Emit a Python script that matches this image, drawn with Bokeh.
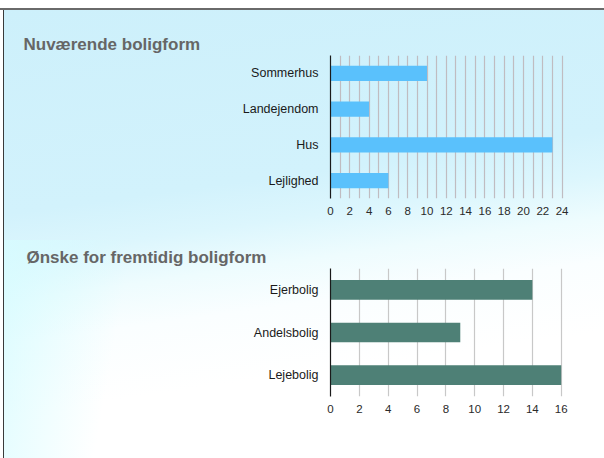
from bokeh.plotting import figure
from bokeh.layouts import column
from bokeh.models import FactorRange, Range1d, FixedTicker
from bokeh.embed import file_html
from bokeh.resources import INLINE

# ---- data ----
title_top = "Nuværende boligform"
cats_top = ["Lejlighed", "Hus", "Landejendom", "Sommerhus"]
vals_top = [6, 23, 4, 10]
ticks_top = [0, 2, 4, 6, 8, 10, 12, 14, 16, 18, 20, 22, 24]
grid_top = list(range(0, 25))

title_bot = "Ønske for fremtidig boligform"
cats_bot = ["Lejebolig", "Andelsbolig", "Ejerbolig"]
vals_bot = [16, 9, 14]
ticks_bot = [0, 2, 4, 6, 8, 10, 12, 14, 16]

FONT = "Liberation Sans"
W = 604
LEFT = 330


def make_fig(cats, vals, ticks, grid, xmax, fw, fh, mtop, mbot, color, gridcolor,
             title, tx, barh):
    p = figure(y_range=FactorRange(*cats, range_padding=0),
               x_range=Range1d(0, xmax),
               frame_width=fw, frame_height=fh,
               min_border_left=LEFT, min_border_right=W - LEFT - fw,
               min_border_top=mtop, min_border_bottom=mbot,
               output_backend="svg", toolbar_location=None)
    p.border_fill_color = None
    p.background_fill_color = None
    p.outline_line_color = None
    p.hbar(y=cats, right=vals, left=0, height=barh, color=color, line_color=None)
    p.ygrid.visible = False
    p.xgrid.ticker = FixedTicker(ticks=grid)
    p.xgrid.grid_line_color = gridcolor
    p.xgrid.grid_line_width = 1.2
    ax = p.xaxis[0]
    ax.ticker = FixedTicker(ticks=ticks)
    ax.axis_line_color = None
    ax.major_tick_line_color = None
    ax.minor_tick_line_color = None
    ax.major_label_standoff = 2
    ax.major_label_text_font = FONT
    ax.major_label_text_font_size = "11.5px"
    ax.major_label_text_color = "#2a2a2a"
    ay = p.yaxis[0]
    ay.axis_line_color = "#1a1a1a"
    ay.axis_line_width = 1.2
    ay.major_tick_line_color = None
    ay.minor_tick_line_color = None
    ay.major_label_standoff = 6
    ay.major_label_text_font = FONT
    ay.major_label_text_font_size = "12.5px"
    ay.major_label_text_color = "#1a1a1a"
    p.title.text = title
    p.title.align = "left"
    p.title.offset = tx - LEFT
    p.title.standoff = 4
    p.title.text_font = FONT
    p.title.text_font_style = "bold"
    p.title.text_font_size = "17px"
    p.title.text_color = "#666666"
    return p


p1 = make_fig(cats_top, vals_top, ticks_top, grid_top, 235 / 9.65, 235, 143, 55, 45,
              "#5ac1fc", "#c0bcc1", title_top, 23, 0.43)
p2 = make_fig(cats_bot, vals_bot, ticks_bot, ticks_bot, 233 / 14.42, 233, 128, 24, 63,
              "#4e8076", "#c8c8c8", title_bot, 26, 0.46)

layout = column(p1, p2, spacing=0)
layout.styles = {
    "background-color": "#ffffff",
    "background": (
        "linear-gradient(#6a6a6a, #6a6a6a) 0 8px / 100% 2px no-repeat, "
        "linear-gradient(#3a3a3a, #3a3a3a) 3px 8px / 1px 100% no-repeat, "
        "linear-gradient(100deg, rgba(215,252,255,0.85) 0%, rgba(225,253,255,0.0) 20%) 4px 240px / 100% 220px no-repeat, "
        "linear-gradient(172deg, #cdf0fb 0%, #d2f2fc 38%, #dcf6fd 46%, #eefcfe 54%, #fafeff 62%, #ffffff 75%, #ffffff 100%) 4px 8px / 100% 100% no-repeat, "
        "#ffffff"),
}

open("out.html", "w").write(file_html(layout, INLINE))
